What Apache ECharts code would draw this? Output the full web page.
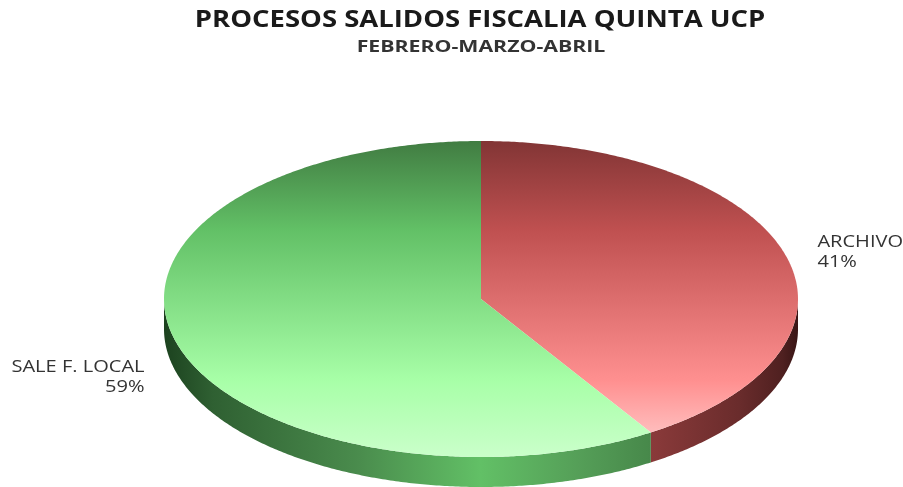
<!DOCTYPE html>
<html>
<head>
<meta charset="utf-8">
<style>
  html, body { margin: 0; padding: 0; background: #fff; }
  #chart { width: 903px; height: 487px; }
</style>
</head>
<body>
<div id="chart"></div>
<script src="https://cdn.jsdelivr.net/npm/echarts@6/dist/echarts.min.js"></script>
<script>
var titleText = 'PROCESOS SALIDOS FISCALIA QUINTA UCP';
var subtitleText = 'FEBRERO-MARZO-ABRIL';
var categories = ['ARCHIVO', 'SALE F. LOCAL'];
var values = [41, 59];

var chart = echarts.init(document.getElementById('chart'));

// disc geometry, pie is squashed by hand because echarts pie is always round
var cx = 481, cy = 299, rx = 317, ry = 158, depth = 30;
var font = '"Open Sans", sans-serif';
var total = values.reduce(function (a, b) { return a + b; }, 0);

var topStops = [
  [[0, '#823535'], [0.28, '#bf5050'], [0.76, '#ff9090'], [0.92, '#ffbcbc'], [1, '#ffc8c8']],
  [[0, '#417c42'], [0.28, '#62c066'], [0.76, '#a8ffa8'], [1, '#caffca']]
];
var sideStops = [
  [[0, '#8a3a3a'], [0.6, '#6a2c2c'], [0.9, '#4f2020'], [1, '#3a1616']],
  [[0, '#1c421f'], [0.1, '#2f6032'], [0.4, '#4a8c4d'], [0.65, '#62c066'], [0.85, '#559f58'], [1, '#47884a']]
];
var sideRange = [[651, 797], [164, 651]];

function gradient(x0, y0, x1, y1, stops) {
  var list = stops.map(function (s) { return { offset: s[0], color: s[1] }; });
  return new echarts.graphic.LinearGradient(x0, y0, x1, y1, list, true);
}

function point(deg, dy) {
  var a = deg * Math.PI / 180;
  return [cx + rx * Math.sin(a), cy - ry * Math.cos(a) + (dy || 0)];
}

function renderSlice(params, api) {
  var i = params.dataIndex;
  var before = 0;
  for (var k = 0; k < i; k++) before += values[k];
  var start = before / total * 360;
  var end = (before + api.value(0)) / total * 360;
  var mid = (start + end) / 2;

  // top face
  var pts = [[cx, cy]];
  for (var d = start; d < end; d += 0.5) pts.push(point(d));
  pts.push(point(end));

  var children = [];

  // outer wall, only the front half of the disc shows
  var from = Math.max(start, 90), to = Math.min(end, 270);
  if (to > from) {
    var upper = [], lower = [];
    for (var w = from; w < to; w += 0.5) {
      upper.push(point(w));
      lower.unshift(point(w, depth));
    }
    upper.push(point(to));
    lower.unshift(point(to, depth));
    children.push({
      type: 'polygon',
      shape: { points: upper.concat(lower) },
      style: { fill: gradient(sideRange[i][0], 0, sideRange[i][1], 0, sideStops[i]) }
    });
  }

  children.push({
    type: 'polygon',
    shape: { points: pts },
    style: { fill: gradient(0, cy - ry, 0, cy + ry, topStops[i]) }
  });

  // label beside the slice, the source picture is stretched sideways
  var p = point(mid);
  var right = Math.sin(mid * Math.PI / 180) > 0;
  var front = Math.cos(mid * Math.PI / 180) < 0;
  children.push({
    type: 'text',
    x: p[0] + (right ? 32 : -32),
    y: p[1] + (front ? 34 : -3),
    scaleX: 1.18,
    style: {
      text: categories[i] + '\n' + Math.round(api.value(0) / total * 100) + '%',
      font: '17px ' + font,
      lineHeight: 20.5,
      fill: '#333',
      align: right ? 'left' : 'right',
      verticalAlign: 'middle'
    }
  });

  return { type: 'group', children: children };
}

chart.setOption({
  animation: false,
  graphic: [
    {
      type: 'text',
      x: 480,
      y: 20,
      scaleX: 1.194,
      style: {
        text: titleText,
        font: 'bold 23px ' + font,
        fill: '#1a1a1a',
        align: 'center',
        verticalAlign: 'middle'
      }
    },
    {
      type: 'text',
      x: 481,
      y: 47,
      scaleX: 1.33,
      style: {
        text: subtitleText,
        font: 'bold 16px ' + font,
        fill: '#333',
        align: 'center',
        verticalAlign: 'middle'
      }
    }
  ],
  series: [{
    type: 'custom',
    coordinateSystem: 'none',
    renderItem: renderSlice,
    data: values.map(function (v, i) { return { name: categories[i], value: [v] }; })
  }]
});
</script>
</body>
</html>
